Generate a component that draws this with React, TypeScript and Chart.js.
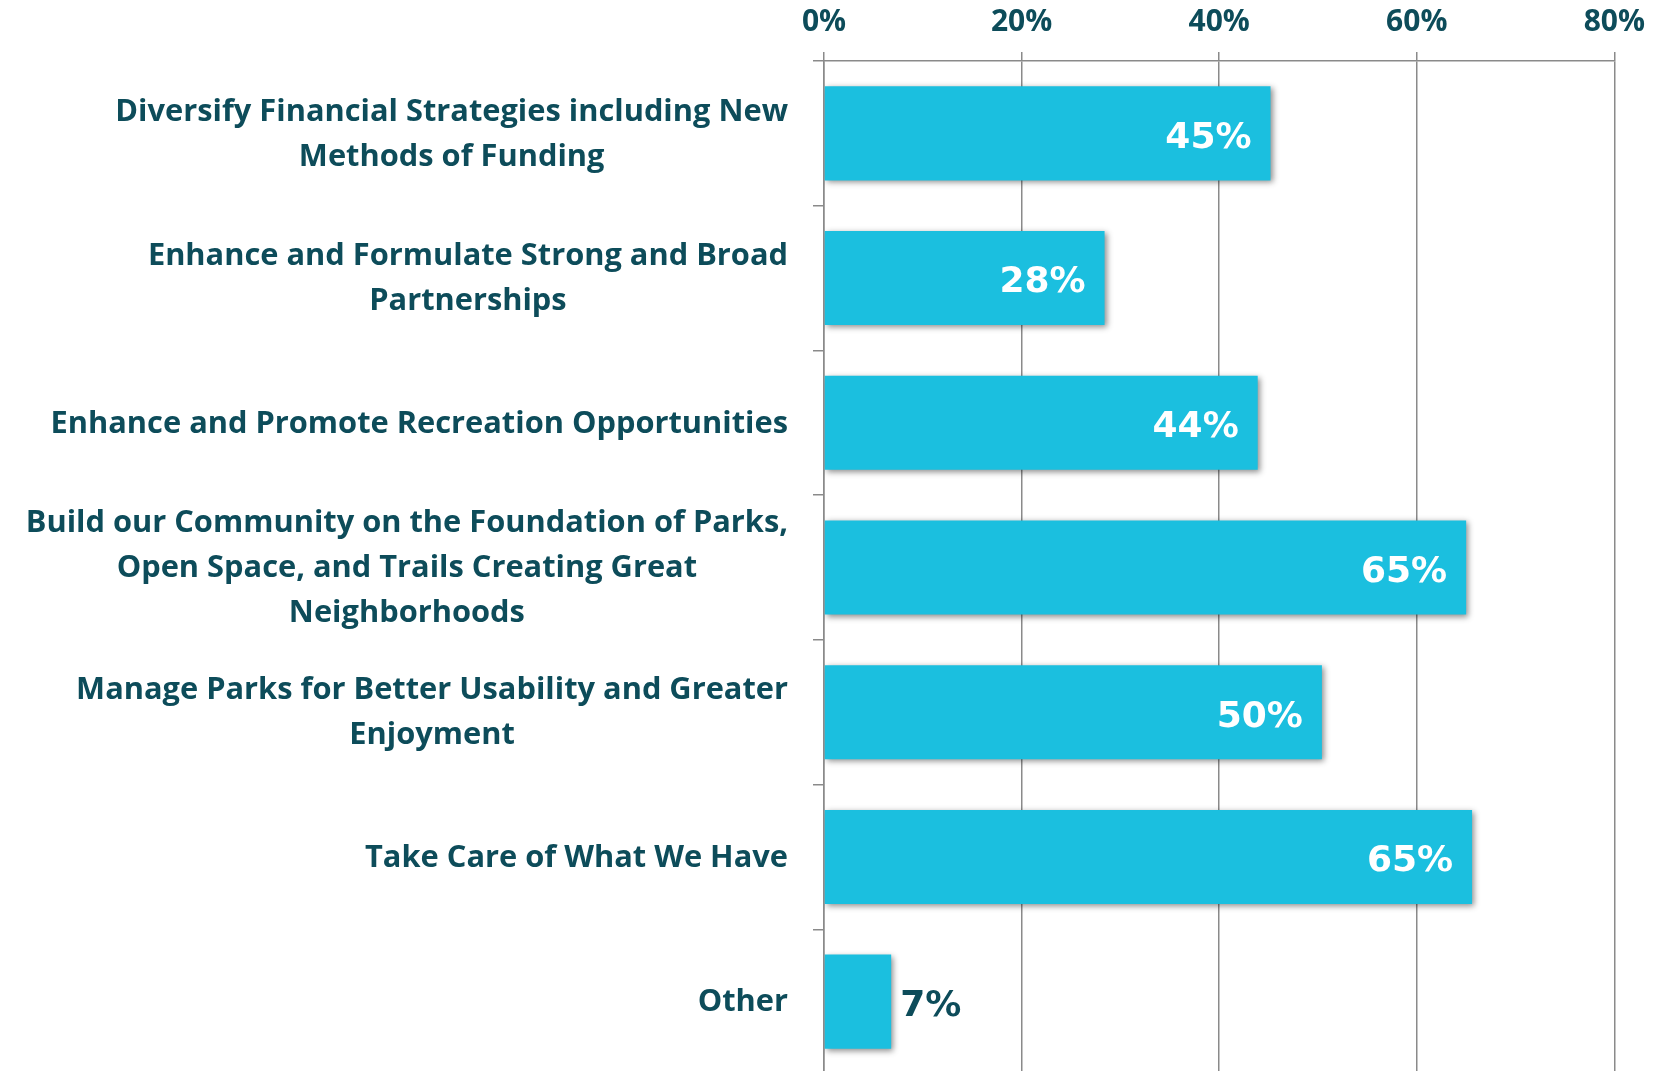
import React, { useEffect, useRef } from "react";
import { Chart, registerables } from "chart.js";

Chart.register(...registerables);

const categories: string[][] = [
  ["Diversify Financial Strategies including New", "Methods of Funding"],
  ["Enhance and Formulate Strong and Broad", "Partnerships"],
  ["Enhance and Promote Recreation Opportunities"],
  ["Build our Community on the Foundation of Parks,", "Open Space, and Trails Creating Great", "Neighborhoods"],
  ["Manage Parks for Better Usability and Greater", "Enjoyment"],
  ["Take Care of What We Have"],
  ["Other"],
];
const values: number[] = [45.2, 28.4, 43.9, 65.0, 50.4, 65.6, 6.8];
const valueLabels: string[] = ["45%", "28%", "44%", "65%", "50%", "65%", "7%"];
const xTicks: number[] = [0, 20, 40, 60, 80];

const TEAL = "#0d4c5a";
const BAR = "#1bbfdf";
const GRID = "#8a8a8a";
const LABEL_FONT = "'Open Sans', Lato, sans-serif";
const VALUE_FONT = "'DejaVu Sans', sans-serif";

export default function App() {
  const ref = useRef<HTMLCanvasElement | null>(null);
  useEffect(() => {
    if (!ref.current) return;
    const customPlugin = {
      id: "custom",
      beforeDatasetsDraw(chart: any) {
        const ctx = chart.ctx;
        ctx.save();
        ctx.shadowColor = "rgba(0,0,0,0.45)";
        ctx.shadowBlur = 6;
        ctx.shadowOffsetX = 2;
        ctx.shadowOffsetY = 2;
      },
      afterDatasetsDraw(chart: any) {
        const ctx = chart.ctx;
        ctx.restore();
        const meta = chart.getDatasetMeta(0);
        ctx.save();
        ctx.font = `bold 36px ${VALUE_FONT}`;
        ctx.textBaseline = "middle";
        meta.data.forEach((bar: any, i: number) => {
          const txt = valueLabels[i];
          if (values[i] < 15) {
            ctx.fillStyle = TEAL;
            ctx.textAlign = "left";
            ctx.fillText(txt, bar.x + 9, bar.y + 5);
          } else {
            ctx.fillStyle = "#ffffff";
            ctx.textAlign = "right";
            ctx.fillText(txt, bar.x - 19, bar.y + 5);
          }
        });
        ctx.restore();
      },
      afterDraw(chart: any) {
        const ctx = chart.ctx;
        const y = chart.scales.y;
        ctx.save();
        ctx.font = `bold 30.8px ${LABEL_FONT}`;
        ctx.fillStyle = TEAL;
        ctx.textAlign = "center";
        ctx.textBaseline = "middle";
        const right = y.right - 36;
        const lh = 45;
        categories.forEach((lines, i) => {
          const cy = y.getPixelForValue(i) + 1;
          const maxW = Math.max(...lines.map((l) => ctx.measureText(l).width));
          const cx = right - maxW / 2;
          lines.forEach((l, j) => {
            ctx.fillText(l, cx, cy + (j - (lines.length - 1) / 2) * lh);
          });
        });
        ctx.restore();
      },
    };

    const chart = new Chart(ref.current, {
      type: "bar",
      data: {
        labels: categories.map((c) => c.join(" ")),
        datasets: [
          {
            data: values,
            backgroundColor: BAR,
            borderWidth: 0,
            barPercentage: 0.65,
            categoryPercentage: 1,
          },
        ],
      },
      options: {
        indexAxis: "y",
        animation: false,
        responsive: false,
        maintainAspectRatio: false,
        layout: { padding: { left: 0, right: 42, top: 0, bottom: 0 } },
        plugins: { legend: { display: false }, tooltip: { enabled: false } },
        scales: {
          x: {
            position: "top",
            min: 0,
            max: 80,
            afterBuildTicks(scale: any) {
              scale.ticks = xTicks.map((v) => ({ value: v }));
            },
            afterFit(scale: any) {
              scale.height = 61;
            },
            grid: {
              color: GRID,
              lineWidth: 1.5,
              drawTicks: true,
              tickLength: 9,
              tickColor: GRID,
            },
            border: { display: true, color: GRID, width: 1.5 },
            ticks: {
              padding: 12,
              color: TEAL,
              font: { family: "'Liberation Sans Narrow', 'Open Sans', Lato, sans-serif", size: 30, weight: "bold" },
              callback: (v: any) => `${v}%`,
            },
          },
          y: {
            afterFit(scale: any) {
              scale.width = 824;
            },
            grid: {
              drawOnChartArea: false,
              drawTicks: true,
              tickLength: 11,
              tickColor: GRID,
              lineWidth: 1.5,
              offset: true,
            },
            border: { display: true, color: GRID, width: 1.5 },
            ticks: { display: false },
          },
        },
      },
      plugins: [customPlugin],
    } as any);
    return () => chart.destroy();
  }, []);

  return (
    <div style={{ position: "fixed", left: 0, top: 0, width: 1657, height: 1074, background: "#fff" }}>
      <canvas ref={ref} width={1657} height={1074} style={{ display: "block" }} />
    </div>
  );
}
